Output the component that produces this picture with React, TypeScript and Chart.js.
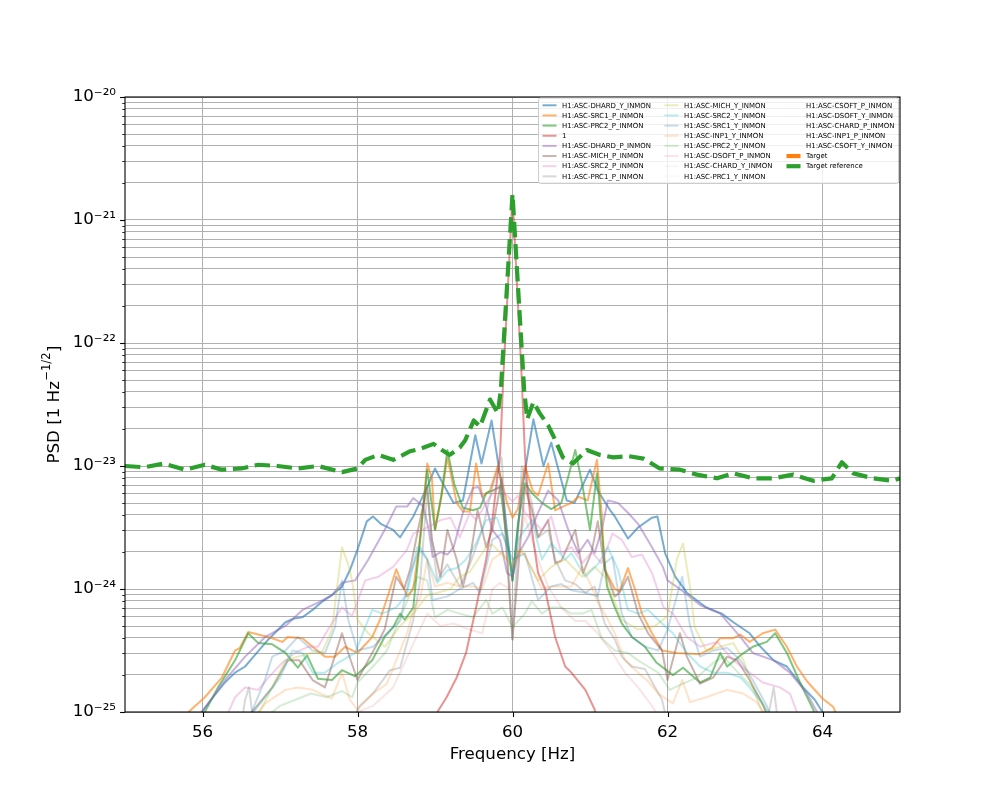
import React, { useEffect, useRef } from 'react';
import { Chart, registerables } from 'chart.js';

Chart.register(...registerables);

type Pt = [number, number | null];

// ---------- axis / tick data ----------
const xMin = 55;
const xMax = 65;
const xTicks = [56, 58, 60, 62, 64];
const yDecades = [-25, -24, -23, -22, -21, -20];
const yTickLabels = ['10⁻²⁵', '10⁻²⁴', '10⁻²³', '10⁻²²', '10⁻²¹', '10⁻²⁰'];
const yMinorMultipliers = [2, 3, 4, 5, 6, 7, 8, 9];
const xTitle = 'Frequency [Hz]';
const yTitleMain = 'PSD [1 Hz';
const yTitleSup = '−1/2';
const yTitleEnd = ']';

// ---------- series (frequency [Hz], log10 PSD) ----------
const dhardY: Pt[] = [
  [55.9, -25.1], [55.99, -25.0], [56.15, -24.87], [56.29, -24.76], [56.42, -24.68], [56.55, -24.63], [56.7, -24.52],
  [56.85, -24.41], [57.07, -24.27], [57.18, -24.24], [57.29, -24.23], [57.42, -24.17], [57.55, -24.1], [57.67, -24.05],
  [57.8, -23.98], [57.9, -23.85], [58.0, -23.68], [58.12, -23.45], [58.2, -23.41], [58.3, -23.47], [58.46, -23.52],
  [58.55, -23.58], [58.72, -23.41], [58.9, -23.17], [59.0, -23.02], [59.1, -23.14], [59.24, -23.3], [59.36, -23.28],
  [59.52, -22.75], [59.6, -22.98], [59.73, -22.63], [59.87, -23.2], [60.0, -23.93], [60.12, -23.2], [60.27, -22.62],
  [60.4, -23.0], [60.5, -22.81], [60.58, -23.0], [60.7, -23.28], [60.8, -23.3], [61.0, -23.03], [61.1, -23.2],
  [61.26, -23.36], [61.32, -23.41], [61.49, -23.59], [61.62, -23.5], [61.8, -23.42], [61.87, -23.41], [61.97, -23.71],
  [62.1, -23.9], [62.25, -24.03], [62.5, -24.15], [62.7, -24.2], [62.85, -24.27], [63.06, -24.36], [63.2, -24.47],
  [63.37, -24.58], [63.54, -24.63], [63.75, -24.8], [63.9, -24.9], [64.0, -25.0], [64.1, -25.1],
];

const src1P: Pt[] = [
  [55.75, -25.1], [55.82, -25.0], [56.03, -24.88], [56.25, -24.72], [56.42, -24.5], [56.48, -24.48], [56.59, -24.35],
  [56.72, -24.37], [56.9, -24.4], [57.03, -24.43], [57.1, -24.39], [57.29, -24.4], [57.42, -24.47], [57.58, -24.55],
  [57.71, -24.55], [57.84, -24.47], [58.0, -24.52], [58.19, -24.39], [58.29, -24.25], [58.42, -24.0], [58.5, -23.84],
  [58.64, -24.06], [58.72, -24.0], [58.81, -23.58], [58.9, -22.98], [58.96, -23.1], [59.0, -23.52], [59.09, -23.22],
  [59.16, -22.93], [59.28, -23.3], [59.36, -23.37], [59.45, -23.37], [59.53, -22.98], [59.61, -23.25], [59.71, -23.2],
  [59.81, -23.0], [59.93, -23.3], [60.0, -23.42], [60.07, -23.35], [60.16, -23.0], [60.26, -23.2], [60.33, -23.24],
  [60.46, -22.98], [60.55, -23.36], [60.65, -23.33], [60.76, -23.3], [60.85, -23.25], [60.97, -23.28], [61.09, -22.95],
  [61.15, -23.38], [61.19, -23.84], [61.32, -24.0], [61.38, -24.02], [61.49, -23.83], [61.58, -24.0], [61.67, -24.2],
  [61.8, -24.36], [61.93, -24.5], [62.12, -24.52], [62.42, -24.53], [62.57, -24.48], [62.68, -24.4], [62.85, -24.4],
  [62.94, -24.37], [63.06, -24.43], [63.23, -24.36], [63.39, -24.33], [63.54, -24.47], [63.67, -24.63], [63.8, -24.75],
  [64.0, -24.89], [64.14, -24.96], [64.2, -25.05],
];

const prc2P: Pt[] = [
  [55.95, -25.1], [56.03, -25.0], [56.2, -24.8], [56.42, -24.58], [56.59, -24.36], [56.72, -24.44], [56.9, -24.45],
  [57.07, -24.52], [57.23, -24.64], [57.35, -24.54], [57.49, -24.73], [57.67, -24.74], [57.8, -24.66], [57.97, -24.71],
  [58.19, -24.58], [58.35, -24.39], [58.46, -24.31], [58.55, -24.2], [58.61, -24.25], [58.72, -24.15], [58.81, -23.58],
  [58.9, -23.03], [59.0, -23.52], [59.08, -23.25], [59.16, -22.87], [59.25, -23.15], [59.36, -23.34], [59.49, -23.36],
  [59.58, -23.34], [59.66, -23.22], [59.74, -23.2], [59.84, -23.17], [59.93, -23.6], [60.0, -23.93], [60.07, -23.47],
  [60.16, -23.14], [60.25, -23.22], [60.38, -23.3], [60.5, -23.35], [60.63, -23.3], [60.81, -22.87], [60.9, -23.15],
  [61.0, -23.52], [61.09, -23.06], [61.15, -23.52], [61.22, -23.98], [61.32, -24.15], [61.41, -24.28], [61.54, -24.39],
  [61.71, -24.47], [61.86, -24.6], [62.07, -24.7], [62.2, -24.64], [62.42, -24.76], [62.55, -24.72], [62.68, -24.52],
  [62.77, -24.63], [62.94, -24.54], [63.1, -24.47], [63.28, -24.43], [63.39, -24.36], [63.54, -24.52], [63.71, -24.76],
  [63.88, -24.98], [63.95, -25.1],
];

const one: Pt[] = [
  [58.95, -25.2], [59.03, -25.0], [59.15, -24.88], [59.28, -24.72], [59.4, -24.52], [59.53, -24.15], [59.66, -23.76],
  [59.74, -23.44], [59.84, -22.9], [59.88, -22.3], [60.0, -20.8], [60.12, -22.3], [60.16, -22.9], [60.19, -23.17],
  [60.25, -23.52], [60.33, -23.87], [60.42, -24.0], [60.55, -24.39], [60.68, -24.63], [60.76, -24.68], [60.94, -24.82],
  [61.06, -24.98], [61.12, -25.2],
];

const dhardP: Pt[] = [
  [55.9, -25.1], [55.99, -25.0], [56.29, -24.74], [56.55, -24.55], [56.81, -24.39], [57.07, -24.3], [57.29, -24.17],
  [57.49, -24.11], [57.67, -24.05], [57.8, -23.95], [57.97, -23.93], [58.14, -23.76], [58.35, -23.52], [58.5, -23.33],
  [58.64, -23.33], [58.72, -23.26], [58.85, -23.33], [58.92, -23.52], [58.97, -23.74], [59.07, -23.7], [59.16, -23.72],
  [59.24, -23.66], [59.36, -23.38], [59.49, -23.18], [59.56, -23.17], [59.66, -23.33], [59.74, -23.52], [59.84, -23.6],
  [59.93, -23.87], [60.0, -23.9], [60.07, -23.72], [60.2, -23.58], [60.33, -23.38], [60.46, -23.2], [60.59, -23.28],
  [60.72, -23.52], [60.85, -23.71], [60.97, -23.6], [61.06, -23.71], [61.15, -23.52], [61.23, -23.28], [61.36, -23.3],
  [61.49, -23.38], [61.62, -23.47], [61.8, -23.66], [61.94, -23.82], [62.0, -23.93], [62.16, -24.0], [62.42, -24.13],
  [62.68, -24.2], [62.94, -24.39], [63.1, -24.52], [63.37, -24.58], [63.58, -24.68], [63.8, -24.85], [63.93, -25.0],
  [64.0, -25.1],
];

const michP: Pt[] = [
  [56.55, -25.1], [56.64, -25.0], [56.9, -24.8], [57.1, -24.58], [57.25, -24.58], [57.42, -24.74], [57.58, -24.8],
  [57.8, -24.36], [57.88, -24.52], [58.0, -24.74], [58.19, -24.52], [58.35, -24.33], [58.5, -23.9], [58.6, -24.0],
  [58.68, -23.84], [58.78, -23.52], [58.9, -23.17], [58.96, -23.6], [59.07, -23.9], [59.16, -23.52], [59.28, -23.76],
  [59.36, -23.98], [59.45, -23.76], [59.55, -23.36], [59.66, -23.66], [59.74, -23.52], [59.86, -23.1], [60.0, -24.41],
  [60.16, -23.17], [60.25, -23.36], [60.33, -23.58], [60.46, -23.44], [60.55, -23.79], [60.63, -23.77], [60.81, -23.52],
  [60.91, -23.87], [61.02, -23.7], [61.1, -23.45], [61.19, -23.84], [61.32, -24.06], [61.38, -24.03], [61.49, -23.9],
  [61.62, -24.2], [61.75, -24.36], [61.93, -24.5], [62.0, -24.74], [62.16, -24.36], [62.25, -24.55], [62.42, -24.77],
  [62.59, -24.72], [62.77, -24.55], [62.9, -24.58], [63.06, -24.74], [63.23, -24.94], [63.3, -25.05],
];

const src2P: Pt[] = [
  [56.3, -25.05], [56.42, -24.88], [56.55, -24.8], [56.72, -24.82], [56.85, -24.72], [57.03, -24.6], [57.19, -24.52],
  [57.36, -24.47], [57.49, -24.47], [57.62, -24.33], [57.8, -24.15], [57.93, -24.22], [58.1, -23.93], [58.27, -23.9],
  [58.46, -23.82], [58.64, -23.68], [58.72, -23.55], [58.9, -23.5], [59.07, -23.44], [59.2, -23.42], [59.32, -23.58],
  [59.45, -23.38], [59.53, -23.44], [59.66, -23.3], [59.8, -23.17], [59.93, -23.24], [60.0, -23.29], [60.07, -23.24],
  [60.16, -23.38], [60.25, -23.44], [60.38, -23.52], [60.5, -23.41], [60.63, -23.71], [60.76, -23.66], [60.9, -23.79],
  [61.02, -23.7], [61.15, -23.79], [61.29, -23.55], [61.41, -23.6], [61.54, -23.74], [61.67, -23.72], [61.8, -23.87],
  [61.95, -24.15], [62.07, -24.2], [62.25, -24.39], [62.42, -24.47], [62.64, -24.43], [62.85, -24.58], [63.06, -24.68],
  [63.23, -24.76], [63.45, -24.8], [63.58, -24.85], [63.67, -25.0], [63.72, -25.1],
];

const prc1P: Pt[] = [
  [56.5, -25.1], [56.55, -24.9], [56.6, -24.8], [56.66, -25.1], [56.7, null],
  [57.9, -25.1], [58.03, -24.95], [58.2, -24.85], [58.42, -24.66], [58.55, -24.64], [58.72, -24.25], [58.81, -23.93],
  [58.9, -23.2], [58.96, -23.6], [59.03, -23.93], [59.16, -23.8], [59.32, -23.98], [59.45, -23.8], [59.61, -23.52],
  [59.74, -23.17], [59.86, -22.93], [60.0, -24.41], [60.12, -23.0], [60.25, -23.3], [60.33, -23.58], [60.46, -23.52],
  [60.55, -23.76], [60.68, -23.93], [60.81, -23.96], [60.94, -24.03], [61.06, -23.98], [61.19, -24.28], [61.32, -24.41],
  [61.41, -24.55], [61.54, -24.63], [61.71, -24.65], [61.84, -24.8], [61.93, -24.9], [62.0, -25.1], [62.1, null],
  [63.28, -25.1], [63.37, -24.8], [63.43, -25.1],
];

const michY: Pt[] = [
  [56.7, -25.05], [56.9, -24.8], [57.07, -24.58], [57.23, -24.55], [57.4, -24.52], [57.54, -24.52], [57.67, -24.33],
  [57.8, -23.66], [57.88, -23.8], [57.93, -23.93], [58.0, -24.25], [58.14, -24.36], [58.35, -24.47], [58.55, -24.3],
  [58.72, -24.2], [58.9, -24.05], [59.03, -24.03], [59.2, -24.0], [59.32, -23.9], [59.45, -23.86], [59.66, -23.66],
  [59.74, -23.64], [59.93, -23.76], [60.0, -23.8], [60.12, -23.68], [60.33, -23.93], [60.5, -23.82], [60.68, -23.76],
  [60.9, -23.9], [61.06, -23.82], [61.19, -23.9], [61.41, -24.25], [61.62, -24.33], [61.84, -24.3], [62.0, -24.22],
  [62.12, -23.76], [62.2, -23.63], [62.29, -23.98], [62.35, -24.31], [62.5, -24.5], [62.68, -24.47], [62.85, -24.44],
  [62.98, -24.58], [63.1, -24.8], [63.25, -25.05],
];

const src2Y: Pt[] = [
  [56.6, -25.05], [56.81, -24.88], [57.0, -24.72], [57.16, -24.5], [57.29, -24.52], [57.42, -24.68], [57.58, -24.68],
  [57.75, -24.6], [57.97, -24.52], [58.1, -24.31], [58.19, -24.17], [58.32, -24.2], [58.5, -24.15], [58.64, -24.04],
  [58.77, -23.66], [58.9, -23.76], [59.03, -23.95], [59.16, -23.85], [59.28, -23.83], [59.4, -23.76], [59.53, -23.63],
  [59.66, -23.44], [59.8, -23.42], [59.93, -23.66], [60.0, -23.87], [60.07, -23.6], [60.25, -23.44], [60.38, -23.76],
  [60.5, -23.63], [60.68, -23.76], [60.76, -23.71], [60.94, -23.9], [61.1, -23.8], [61.23, -23.66], [61.36, -23.84],
  [61.49, -24.17], [61.62, -24.2], [61.75, -24.17], [61.93, -24.28], [62.07, -24.36], [62.25, -24.52], [62.42, -24.63],
  [62.59, -24.68], [62.77, -24.68], [62.94, -24.72], [63.06, -24.8], [63.23, -24.94], [63.32, -25.05],
];

const src1Y: Pt[] = [
  [56.6, -25.05], [56.8, -24.75], [56.9, -24.55], [57.07, -24.5], [57.23, -24.39], [57.42, -24.5], [57.58, -24.52],
  [57.71, -24.31], [57.8, -23.93], [57.88, -24.25], [58.0, -24.5], [58.2, -24.47], [58.38, -24.36], [58.55, -24.26],
  [58.68, -23.87], [58.81, -23.66], [58.9, -23.76], [58.97, -24.09], [59.16, -24.06], [59.32, -24.0], [59.49, -23.95],
  [59.58, -24.03], [59.66, -23.82], [59.74, -23.6], [59.87, -23.55], [60.0, -23.76], [60.16, -23.71], [60.33, -24.09],
  [60.5, -23.98], [60.63, -23.96], [60.76, -24.01], [60.94, -24.03], [61.1, -24.06], [61.19, -23.79], [61.29, -23.74],
  [61.41, -24.2], [61.54, -24.39], [61.71, -24.47], [61.88, -24.5], [62.0, -24.33], [62.19, -23.9], [62.29, -24.3],
  [62.42, -24.55], [62.59, -24.5], [62.77, -24.48], [62.94, -24.58], [63.1, -24.74], [63.28, -24.95], [63.35, -25.05],
];

const inp1Y: Pt[] = [
  [56.65, -25.05], [56.81, -24.93], [57.07, -24.82], [57.23, -24.8], [57.42, -24.82], [57.67, -24.89], [57.8, -24.68],
  [57.9, -24.9], [58.0, -24.98], [58.2, -24.85], [58.38, -24.77], [58.5, -24.58], [58.64, -24.36], [58.72, -24.17],
  [58.81, -24.07], [58.9, -23.76], [59.0, -23.98], [59.16, -23.95], [59.32, -23.98], [59.49, -23.98], [59.61, -24.0],
  [59.74, -23.76], [59.87, -23.7], [60.0, -23.84], [60.07, -23.68], [60.16, -23.73], [60.38, -24.0], [60.5, -23.98],
  [60.76, -23.98], [60.9, -23.82], [61.02, -23.98], [61.1, -24.11], [61.19, -24.2], [61.32, -24.36], [61.45, -24.58],
  [61.62, -24.68], [61.75, -24.75], [61.88, -24.85], [62.07, -24.93], [62.19, -24.74], [62.29, -24.92], [62.5, -24.88],
  [62.77, -24.82], [62.98, -24.85], [63.15, -24.92], [63.3, -25.05],
];

const prc2Y: Pt[] = [
  [56.8, -25.05], [57.0, -24.95], [57.2, -24.9], [57.4, -24.85], [57.6, -24.88], [57.8, -24.83], [57.93, -24.88],
  [58.0, -24.76], [58.2, -24.63], [58.38, -24.5], [58.5, -24.31], [58.64, -24.1], [58.77, -23.9], [58.9, -23.93],
  [59.0, -24.23], [59.16, -24.17], [59.32, -24.2], [59.49, -24.23], [59.66, -24.09], [59.74, -24.2], [59.87, -24.15],
  [60.0, -24.31], [60.16, -24.2], [60.25, -24.1], [60.38, -24.2], [60.5, -24.15], [60.63, -24.15], [60.76, -24.2],
  [60.9, -24.2], [61.02, -24.17], [61.15, -24.4], [61.32, -24.5], [61.49, -24.52], [61.62, -24.58], [61.75, -24.63],
  [61.88, -24.68], [62.03, -24.82], [62.2, -24.77], [62.38, -24.72], [62.59, -24.6], [62.72, -24.55], [62.94, -24.7],
  [63.1, -24.8], [63.25, -24.95], [63.35, -25.05],
];

const dsoftP: Pt[] = [
  [57.8, -25.05], [58.2, -24.95], [58.46, -24.8], [58.9, -24.2], [59.07, -24.3], [59.24, -24.28], [59.45, -24.33],
  [59.61, -24.36], [59.74, -24.0], [59.84, -23.95], [59.96, -24.0], [60.16, -23.41], [60.33, -23.76], [60.46, -23.98],
  [60.63, -24.15], [60.81, -24.26], [60.94, -24.26], [61.1, -24.36], [61.29, -24.52], [61.45, -24.68], [61.62, -24.8],
  [61.8, -24.95], [61.9, -25.05],
];

const chardY: Pt[] = [];
const prc1Y: Pt[] = [];
const csoftP: Pt[] = [];
const dsoftY: Pt[] = [];
const chardP: Pt[] = [];
const inp1P: Pt[] = [];
const csoftY: Pt[] = [];
const target: Pt[] = [];

const targetReference: Pt[] = [
  [55.0, -23.0], [55.25, -23.01], [55.5, -22.98], [55.77, -23.03], [56.03, -22.99], [56.25, -23.03], [56.5, -23.02],
  [56.72, -22.99], [56.97, -23.0], [57.23, -23.02], [57.49, -23.0], [57.8, -23.05], [58.0, -23.02], [58.1, -22.95],
  [58.27, -22.91], [58.46, -22.95], [58.68, -22.88], [58.81, -22.86], [58.98, -22.82], [59.09, -22.87], [59.19, -22.91],
  [59.32, -22.85], [59.39, -22.79], [59.5, -22.63], [59.58, -22.68], [59.71, -22.46], [59.81, -22.57], [59.85, -22.38],
  [60.0, -20.79], [60.15, -22.38], [60.19, -22.62], [60.27, -22.48], [60.35, -22.57], [60.46, -22.67], [60.53, -22.76],
  [60.65, -22.93], [60.78, -22.98], [60.96, -22.87], [61.13, -22.91], [61.3, -22.93], [61.5, -22.92], [61.69, -22.94],
  [61.9, -23.02], [62.16, -23.03], [62.38, -23.07], [62.64, -23.1], [62.85, -23.06], [63.1, -23.1], [63.37, -23.1],
  [63.62, -23.07], [63.88, -23.12], [64.12, -23.1], [64.25, -22.97], [64.4, -23.06], [64.65, -23.1], [64.9, -23.12],
  [65.0, -23.1],
];

const seriesNames = [
  'H1:ASC-DHARD_Y_INMON', 'H1:ASC-SRC1_P_INMON', 'H1:ASC-PRC2_P_INMON', '1', 'H1:ASC-DHARD_P_INMON',
  'H1:ASC-MICH_P_INMON', 'H1:ASC-SRC2_P_INMON', 'H1:ASC-PRC1_P_INMON', 'H1:ASC-MICH_Y_INMON', 'H1:ASC-SRC2_Y_INMON',
  'H1:ASC-SRC1_Y_INMON', 'H1:ASC-INP1_Y_INMON', 'H1:ASC-PRC2_Y_INMON', 'H1:ASC-DSOFT_P_INMON', 'H1:ASC-CHARD_Y_INMON',
  'H1:ASC-PRC1_Y_INMON', 'H1:ASC-CSOFT_P_INMON', 'H1:ASC-DSOFT_Y_INMON', 'H1:ASC-CHARD_P_INMON', 'H1:ASC-INP1_P_INMON',
  'H1:ASC-CSOFT_Y_INMON', 'Target', 'Target reference',
];
const seriesData: Pt[][] = [
  dhardY, src1P, prc2P, one, dhardP, michP, src2P, prc1P, michY, src2Y, src1Y, inp1Y, prc2Y, dsoftP, chardY,
  prc1Y, csoftP, dsoftY, chardP, inp1P, csoftY, target, targetReference,
];
const seriesColors = [
  '#1f77b4', '#ff7f0e', '#2ca02c', '#d62728', '#9467bd', '#8c564b', '#e377c2', '#7f7f7f', '#bcbd22', '#17becf',
  '#1f77b4', '#ff7f0e', '#2ca02c', '#d62728', '#9467bd', '#8c564b', '#e377c2', '#7f7f7f', '#bcbd22', '#17becf',
  '#1f77b4', '#ff7f0e', '#2ca02c',
];
const seriesAlpha = [
  0.6, 0.6, 0.6, 0.5, 0.5, 0.45, 0.35, 0.3, 0.3, 0.3, 0.25, 0.22, 0.2, 0.12, 0.06, 0.03, 0.02, 0.01, 0, 0, 0, 1, 1,
];
const legendColumnSizes = [8, 8, 7];

function rgba(hex: string, a: number): string {
  const r = parseInt(hex.slice(1, 3), 16);
  const g = parseInt(hex.slice(3, 5), 16);
  const b = parseInt(hex.slice(5, 7), 16);
  return `rgba(${r},${g},${b},${a})`;
}

const FONT = '"DejaVu Sans", "Liberation Sans", sans-serif';

const overlayPlugin = {
  id: 'overlay',
  afterDatasetsDraw(chart: any) {
    const ctx: CanvasRenderingContext2D = chart.ctx;
    const { left, right, top, bottom } = chart.chartArea;
    const xs = chart.scales.x;
    const ys = chart.scales.y;
    ctx.save();

    // tick marks
    ctx.strokeStyle = '#000';
    ctx.lineWidth = 1.1;
    ctx.beginPath();
    for (const v of xTicks) {
      const px = Math.round(xs.getPixelForValue(v)) + 0.5;
      ctx.moveTo(px, bottom);
      ctx.lineTo(px, bottom + 4.9);
    }
    ctx.stroke();
    for (const t of ys.ticks) {
      const py = Math.round(ys.getPixelForValue(t.value)) + 0.5;
      const isMajor = yDecades.some((d) => Math.abs(Math.log10(t.value) - d) < 1e-6);
      ctx.lineWidth = isMajor ? 1.1 : 0.8;
      ctx.beginPath();
      ctx.moveTo(left, py);
      ctx.lineTo(left - (isMajor ? 4.9 : 2.8), py);
      ctx.stroke();
    }

    // frame
    ctx.lineWidth = 1.1;
    ctx.strokeRect(left, top, right - left, bottom - top);

    // axis titles
    ctx.fillStyle = '#000';
    ctx.font = `16.67px ${FONT}`;
    ctx.textAlign = 'center';
    ctx.textBaseline = 'alphabetic';
    ctx.fillText(xTitle, (left + right) / 2, 759);

    ctx.save();
    ctx.translate(58.5, (top + bottom) / 2);
    ctx.rotate(-Math.PI / 2);
    ctx.textAlign = 'left';
    ctx.font = `16.67px ${FONT}`;
    const w1 = ctx.measureText(yTitleMain).width;
    const w3 = ctx.measureText(yTitleEnd).width;
    ctx.font = `11.5px ${FONT}`;
    const w2 = ctx.measureText(yTitleSup).width;
    const total = w1 + w2 + w3 + 1;
    let cx = -total / 2;
    ctx.font = `16.67px ${FONT}`;
    ctx.fillText(yTitleMain, cx, 0);
    cx += w1;
    ctx.font = `11.5px ${FONT}`;
    ctx.fillText(yTitleSup, cx + 0.5, -8.5);
    cx += w2 + 1;
    ctx.font = `16.67px ${FONT}`;
    ctx.fillText(yTitleEnd, cx, 0);
    ctx.restore();

    // legend
    const bx = 538.5;
    const by = 98;
    const bw = 360;
    const bh = 85.5;
    ctx.fillStyle = 'rgba(255,255,255,0.8)';
    ctx.strokeStyle = '#cccccc';
    ctx.lineWidth = 1;
    ctx.beginPath();
    const r = 2;
    ctx.moveTo(bx + r, by);
    ctx.lineTo(bx + bw - r, by);
    ctx.arcTo(bx + bw, by, bx + bw, by + r, r);
    ctx.lineTo(bx + bw, by + bh - r);
    ctx.arcTo(bx + bw, by + bh, bx + bw - r, by + bh, r);
    ctx.lineTo(bx + r, by + bh);
    ctx.arcTo(bx, by + bh, bx, by + bh - r, r);
    ctx.lineTo(bx, by + r);
    ctx.arcTo(bx, by, bx + r, by, r);
    ctx.closePath();
    ctx.fill();
    ctx.stroke();

    ctx.font = `6.94px ${FONT}`;
    ctx.textAlign = 'left';
    ctx.textBaseline = 'middle';
    let idx = 0;
    legendColumnSizes.forEach((count, col) => {
      const hx0 = 542.5 + col * 122;
      const hx1 = hx0 + 14;
      const tx = 562 + col * 122;
      for (let row = 0; row < count; row++) {
        const i = idx++;
        const yy = 105.3 + row * 10.15;
        const ds = chart.data.datasets[i];
        ctx.strokeStyle = ds.borderColor;
        ctx.lineWidth = ds.borderWidth;
        ctx.setLineDash([]);
        ctx.lineCap = 'butt';
        ctx.beginPath();
        ctx.moveTo(hx0, yy);
        ctx.lineTo(hx1, yy);
        ctx.stroke();
        ctx.fillStyle = '#000';
        ctx.fillText(seriesNames[i], tx, yy + 0.5);
      }
    });

    ctx.restore();
  },
};

export default function App() {
  const canvasRef = useRef<HTMLCanvasElement | null>(null);

  useEffect(() => {
    if (!canvasRef.current) return;
    Chart.defaults.font.family = FONT;
    const n = seriesNames.length;
    const datasets = seriesData.map((arr, i) => {
      const isThick = i >= n - 2;
      return {
        label: seriesNames[i],
        data: arr.map(([f, e]) => ({ x: f, y: e === null ? null : Math.pow(10, e) })),
        borderColor: rgba(seriesColors[i], seriesAlpha[i]),
        backgroundColor: rgba(seriesColors[i], seriesAlpha[i]),
        borderWidth: isThick ? 4.2 : 2,
        borderDash: i === n - 1 ? [15.4, 6.7] : [],
        borderJoinStyle: 'round',
        borderCapStyle: i === n - 1 ? 'butt' : 'round',
        pointRadius: 0,
        pointHoverRadius: 0,
        fill: false,
        tension: 0,
        spanGaps: false,
        order: n - i,
      };
    });

    const yTickValues: number[] = [];
    for (const d of yDecades) {
      yTickValues.push(Math.pow(10, d));
      if (d < yDecades[yDecades.length - 1]) {
        for (const m of yMinorMultipliers) yTickValues.push(m * Math.pow(10, d));
      }
    }

    const chart = new Chart(canvasRef.current, {
      type: 'line',
      data: { datasets: datasets as any },
      options: {
        responsive: false,
        animation: false,
        devicePixelRatio: 1,
        layout: { padding: { left: 0, right: 100, top: 97, bottom: 0 } },
        plugins: {
          legend: { display: false },
          tooltip: { enabled: false },
        },
        scales: {
          x: {
            type: 'linear',
            min: xMin,
            max: xMax,
            afterBuildTicks: (scale: any) => {
              scale.ticks = xTicks.map((v) => ({ value: v }));
            },
            afterFit: (scale: any) => {
              scale.height = 88;
            },
            grid: { color: '#b0b0b0', lineWidth: 1, drawTicks: false },
            border: { display: false },
            ticks: {
              autoSkip: false,
              maxRotation: 0,
              padding: 11,
              color: '#000',
              font: { size: 16.67, family: FONT },
              callback: (v: any) => String(v),
            },
          },
          y: {
            type: 'logarithmic',
            min: 1e-25,
            max: 1e-20,
            afterBuildTicks: (scale: any) => {
              scale.ticks = yTickValues.map((v) => ({ value: v }));
            },
            afterFit: (scale: any) => {
              scale.width = 125;
            },
            grid: { color: '#b0b0b0', lineWidth: 1, drawTicks: false },
            border: { display: false },
            ticks: {
              autoSkip: false,
              padding: 9,
              color: '#000',
              font: { size: 16.67, family: FONT },
              callback: (v: any) => {
                const idx = yDecades.findIndex((d) => Math.abs(Math.log10(Number(v)) - d) < 1e-6);
                return idx >= 0 ? yTickLabels[idx] : '';
              },
            },
          },
        },
      },
      plugins: [overlayPlugin],
    });
    return () => chart.destroy();
  }, []);

  return (
    <div style={{ position: 'absolute', left: 0, top: 0, width: 1000, height: 800, background: '#fff' }}>
      <canvas ref={canvasRef} width={1000} height={800} style={{ display: 'block', width: 1000, height: 800 }} />
    </div>
  );
}
